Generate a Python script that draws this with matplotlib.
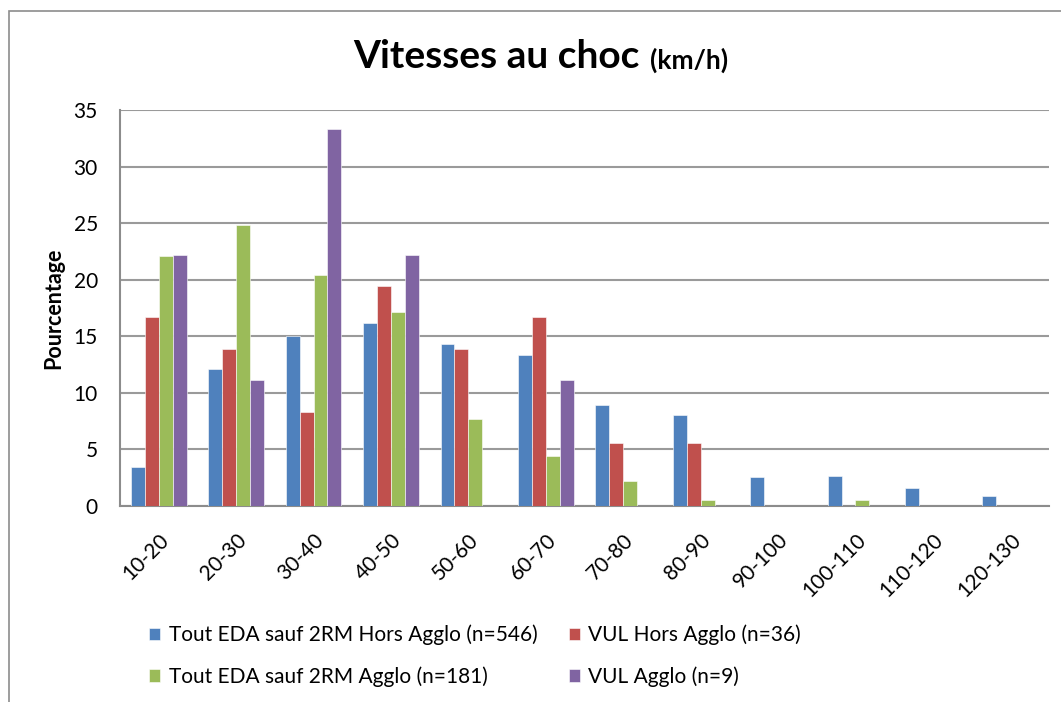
import matplotlib
matplotlib.use("Agg")
import matplotlib.pyplot as plt
import numpy as np
from matplotlib.patches import Rectangle

categories = ["10-20", "20-30", "30-40", "40-50", "50-60", "60-70", "70-80",
              "80-90", "90-100", "100-110", "110-120", "120-130"]
tout_hors = [3.45, 12.07, 15.04, 16.14, 14.28, 13.36, 8.94, 8.03, 2.54, 2.69, 1.6, 0.89]
vul_hors = [16.67, 13.89, 8.33, 19.44, 13.89, 16.67, 5.56, 5.56, 0, 0, 0, 0]
tout_agglo = [22.1, 24.86, 20.44, 17.13, 7.73, 4.42, 2.21, 0.55, 0, 0.55, 0, 0]
vul_agglo = [22.22, 11.11, 33.33, 22.22, 0, 11.11, 0, 0, 0, 0, 0, 0]
labels = ["Tout EDA sauf 2RM Hors Agglo (n=546)", "VUL Hors Agglo (n=36)",
          "Tout EDA sauf 2RM Agglo (n=181)", "VUL Agglo (n=9)"]
colors = ["#4F81BD", "#C0504D", "#9BBB59", "#8064A2"]
yticks = [0, 5, 10, 15, 20, 25, 30, 35]

plt.rcParams['font.family'] = ['Lato', 'DejaVu Sans']

W, H = 1061, 702
fig = plt.figure(figsize=(W / 100, H / 100), dpi=100)
fig.patch.set_facecolor("white")
ax = fig.add_axes([120 / W, 1 - 506 / H, (1049 - 120) / W, (506 - 110) / H])

# outer chart frame (cropped at right and bottom)
fig.patches.append(Rectangle((9 / W, -0.05), 1.1, 1 - 11 / H + 0.05,
                             transform=fig.transFigure, fill=False,
                             edgecolor="#8C8C8C", linewidth=1.2))

x = np.arange(len(categories))
bw = 0.18
series = [tout_hors, vul_hors, tout_agglo, vul_agglo]
handles = []
for i, (vals, c, lab) in enumerate(zip(series, colors, labels)):
    h = ax.bar(x + (i - 1.5) * bw, vals, width=bw, color=c, label=lab,
               edgecolor="white", linewidth=0.4, zorder=3)
    handles.append(h)

ax.set_xlim(-0.5, len(categories) - 0.5)
ax.set_ylim(0, 35)
ax.set_yticks(yticks)
ax.set_yticklabels([str(v) for v in yticks], fontsize=15)
ax.set_xticks(x)
ax.set_xticklabels(categories, rotation=45, ha="right", va="top",
                   rotation_mode="anchor", fontsize=15)
ax.tick_params(axis="y", length=0, pad=16)
ax.tick_params(axis="x", length=0, pad=17)
ax.yaxis.grid(True, color="#9A9A9A", linewidth=1.5, zorder=0)
ax.set_axisbelow(True)
for s in ["top", "right"]:
    ax.spines[s].set_visible(False)
for s in ["left", "bottom"]:
    ax.spines[s].set_color("#8C8C8C")
    ax.spines[s].set_linewidth(1.5)

ax.set_ylabel("Pourcentage", fontsize=15.5, fontweight="bold")
ax.yaxis.set_label_coords(-0.060, 0.5)

fig.text(640 / W, 1 - 57 / H, "Vitesses au choc", fontsize=28, fontweight="bold",
         ha="right", va="center")
fig.text(650 / W, 1 - 60 / H, "(km/h)", fontsize=19, fontweight="bold",
         ha="left", va="center")

leg_handles = [handles[0], handles[2], handles[1], handles[3]]
leg_labels = [labels[0], labels[2], labels[1], labels[3]]
fig.legend(leg_handles, leg_labels, ncol=2, frameon=False, fontsize=15,
           loc="upper left", bbox_to_anchor=(130 / W, 1 - 606 / H),
           handlelength=0.55, handleheight=0.55, handletextpad=0.4,
           columnspacing=1.5, labelspacing=1.0)

fig.savefig("out.png", dpi=100, facecolor="white")
